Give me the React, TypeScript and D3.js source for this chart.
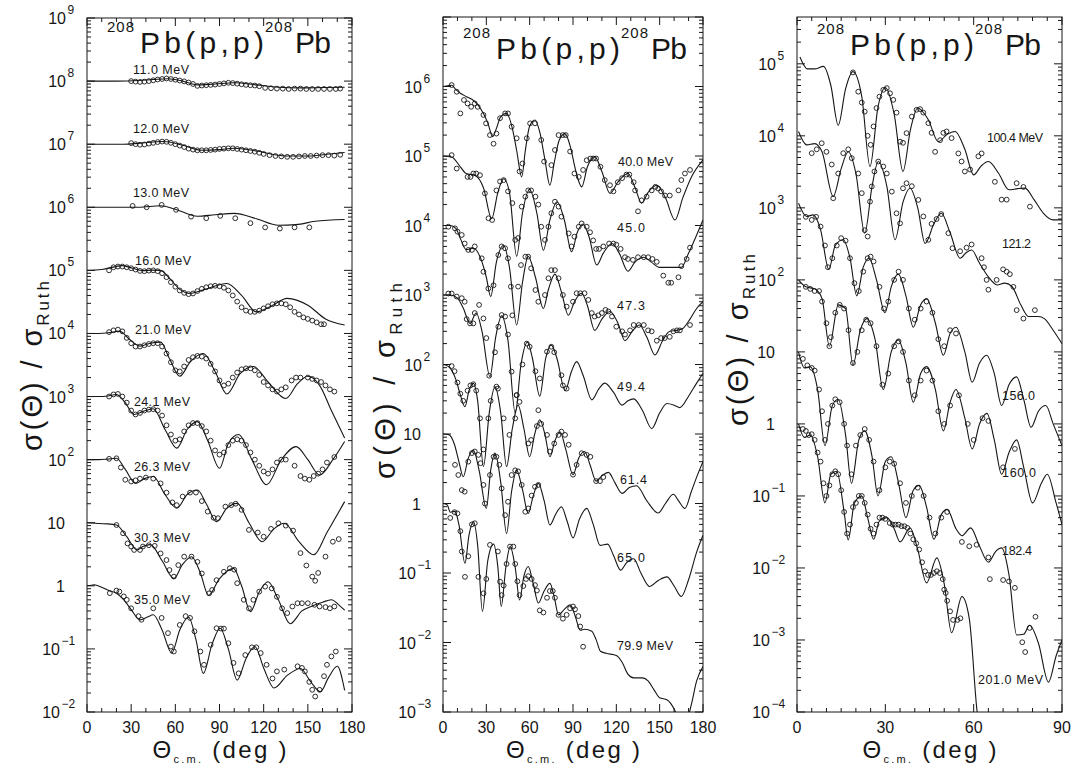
import React from "react";
import * as d3 from "d3";

type Pt = [number, number];

// ================= Panel A : 11 – 35 MeV =================
const A_LABELS = ["11.0 MeV", "12.0 MeV", "13.0 MeV", "16.0 MeV", "21.0 MeV", "24.1 MeV", "26.3 MeV", "30.3 MeV", "35.0 MeV"];
const A_FACTORS = [1e8, 1e7, 1e6, 1e5, 1e4, 1e3, 1e2, 10, 1];

const th_11_0: Pt[] = [[0,1.0],[20,1.0],[35,1.02],[45,1.06],[55,1.09],[65,1.0],[75,0.87],[87,0.9],[100,0.94],[115,0.87],[130,0.8],[145,0.78],[160,0.79],[175,0.8]];
const ex_11_0: Pt[] = [[30,1.0],[33,0.98],[36,0.97],[39,0.98],[42,1.0],[45,1.03],[48,1.06],[51,1.08],[54,1.1],[57,1.08],[60,1.05],[63,1.02],[66,0.99],[69,0.95],[72,0.9],[75,0.84],[78,0.85],[81,0.86],[84,0.87],[87,0.88],[90,0.9],[93,0.92],[96,0.94],[99,0.93],[102,0.91],[105,0.89],[108,0.87],[111,0.86],[114,0.85],[117,0.83],[121,0.78],[125,0.77],[129,0.76],[133,0.76],[137,0.75],[141,0.76],[145,0.76],[149,0.75],[153,0.75],[157,0.75],[161,0.75],[165,0.75],[169,0.75],[172,0.76]];

const th_12_0: Pt[] = [[0,1.0],[25,1.0],[35,1.03],[52,1.1],[65,0.96],[78,0.8],[90,0.82],[100,0.86],[115,0.78],[135,0.65],[150,0.65],[165,0.7],[175,0.74]];
const ex_12_0: Pt[] = [[30,1.04],[33,1.0],[36,0.98],[39,0.99],[42,1.02],[45,1.05],[48,1.08],[51,1.1],[54,1.09],[57,1.05],[60,1.0],[63,0.95],[66,0.9],[69,0.85],[72,0.82],[75,0.8],[78,0.8],[81,0.8],[84,0.81],[87,0.82],[90,0.84],[93,0.85],[96,0.86],[99,0.86],[102,0.84],[105,0.82],[108,0.8],[111,0.78],[114,0.76],[117,0.73],[120,0.7],[124,0.67],[128,0.65],[132,0.64],[136,0.63],[140,0.63],[144,0.64],[148,0.65],[152,0.65],[156,0.66],[160,0.67],[164,0.67],[168,0.66],[172,0.68]];

const th_13_0: Pt[] = [[0,1.0],[20,1.0],[35,1.0],[50,1.06],[60,0.93],[75,0.72],[87,0.76],[100,0.8],[115,0.66],[130,0.52],[142,0.53],[155,0.6],[175,0.64]];
const ex_13_0: Pt[] = [[31,1.05],[40.5,1.0],[50.7,1.09],[60.5,0.91],[70.7,0.71],[81,0.67],[90.5,0.73],[100.7,0.67],[111,0.56],[121,0.48],[131,0.46],[141,0.48],[151,0.48]];

const th_16_0: Pt[] = [[0,1.0],[10,1.03],[24,1.19],[31,1.08],[38,0.99],[44,1.01],[50,1.0],[56,0.75],[63,0.5],[70,0.43],[80,0.5],[95,0.62],[105,0.4],[115,0.22],[125,0.27],[136,0.36],[150,0.28],[162,0.17],[175,0.136]];
const ex_16_0: Pt[] = [[15,1.0],[18,1.12],[21,1.15],[24,1.15],[27,1.12],[30,1.08],[33,1.03],[36,0.98],[39,0.97],[42,0.99],[45,1.0],[48,0.97],[51,0.9],[54,0.78],[57,0.65],[60,0.55],[63,0.48],[66,0.44],[69,0.42],[72,0.43],[75,0.47],[78,0.51],[81,0.54],[84,0.56],[87,0.57],[90,0.56],[93,0.53],[96,0.48],[99,0.4],[102,0.32],[105,0.26],[108,0.23],[111,0.22],[114,0.22],[117,0.23],[120,0.25],[123,0.27],[126,0.29],[129,0.3],[132,0.3],[135,0.29],[138,0.26],[141,0.22],[144,0.2],[147,0.18],[150,0.17],[153,0.16],[156,0.15],[159,0.14],[161,0.14]];

const th_21_0: Pt[] = [[0,1.0],[8,1.0],[15,1.03],[22,1.09],[29,0.8],[36,0.63],[43,0.7],[50,0.73],[56,0.4],[63,0.21],[70,0.35],[79,0.48],[87,0.25],[95,0.11],[104,0.23],[113,0.3],[123,0.17],[135,0.093],[143,0.16],[150,0.21],[158,0.15],[166,0.06],[175,0.022]];
const ex_21_0: Pt[] = [[15,1.05],[18,1.12],[21,1.15],[24,1.08],[27,0.85],[30,0.7],[33,0.62],[36,0.62],[39,0.65],[42,0.68],[45,0.7],[48,0.7],[51,0.62],[54,0.48],[57,0.35],[60,0.26],[63,0.25],[66,0.3],[69,0.38],[72,0.42],[75,0.44],[78,0.43],[81,0.4],[84,0.33],[87,0.25],[90,0.18],[93,0.15],[96,0.16],[99,0.2],[102,0.24],[105,0.27],[108,0.28],[111,0.28],[114,0.26],[117,0.22],[120,0.17],[123,0.15],[126,0.13],[129,0.12],[132,0.13],[135,0.14],[139,0.18],[142,0.2],[145,0.2],[150,0.2],[153,0.19],[156,0.18],[159,0.17],[162,0.15],[165,0.13],[168,0.12]];

const th_24_1: Pt[] = [[0,1.0],[8,1.0],[14,1.02],[20,1.08],[26,0.8],[32,0.52],[38,0.58],[45,0.64],[53,0.3],[61,0.152],[68,0.3],[75,0.4],[82,0.2],[90,0.073],[96,0.18],[103,0.25],[112,0.1],[122,0.04],[132,0.1],[142,0.161],[150,0.1],[158,0.057],[167,0.1],[175,0.194]];
const ex_24_1: Pt[] = [[15,1.0],[18,1.08],[21,1.1],[24,1.0],[27,0.8],[30,0.6],[33,0.52],[36,0.55],[39,0.6],[42,0.62],[45,0.63],[48,0.6],[51,0.5],[54,0.35],[57,0.25],[60,0.2],[63,0.21],[66,0.28],[69,0.35],[72,0.38],[75,0.38],[78,0.34],[81,0.28],[84,0.2],[87,0.14],[90,0.12],[93,0.13],[96,0.17],[99,0.2],[102,0.21],[105,0.2],[108,0.17],[111,0.13],[114,0.1],[117,0.08],[120,0.065],[123,0.06],[126,0.07],[129,0.09],[132,0.1],[135,0.1],[141,0.08],[145,0.055],[148,0.05],[151,0.048],[154,0.055],[157,0.06],[160,0.07],[163,0.09],[168,0.11]];

const th_26_3: Pt[] = [[0,1.0],[8,1.0],[14,1.02],[20,1.05],[26,0.7],[33,0.42],[39,0.5],[45,0.54],[53,0.28],[61,0.17],[68,0.28],[75,0.33],[81,0.2],[88,0.104],[95,0.17],[102,0.203],[110,0.1],[119,0.05],[127,0.08],[134,0.098],[144,0.05],[154,0.031],[163,0.07],[175,0.216]];
const ex_26_3: Pt[] = [[15,1.03],[20,1.05],[23,0.75],[26,0.48],[30,0.45],[33,0.47],[36,0.5],[40,0.52],[45,0.5],[50,0.42],[54,0.3],[58,0.21],[61,0.19],[65,0.26],[70,0.3],[74,0.3],[78,0.22],[82,0.15],[86,0.12],[89,0.118],[94,0.18],[98,0.19],[101,0.2],[105,0.16],[110,0.077],[116,0.07],[120,0.06],[125,0.08],[130,0.098],[135,0.09],[140,0.075],[145,0.033],[149,0.021],[153,0.014],[155,0.012],[157,0.016],[162,0.029],[167,0.05],[171,0.055]];

const th_30_3: Pt[] = [[0,1.0],[4,0.99],[8,0.97],[14,0.96],[20,0.92],[27,0.6],[34,0.37],[38,0.42],[43,0.45],[51,0.25],[59,0.131],[65,0.22],[71,0.289],[77,0.16],[82.5,0.071],[90,0.13],[99.5,0.189],[105,0.1],[111,0.039],[117,0.08],[123,0.116],[130,0.06],[138,0.025],[146,0.04],[153,0.048],[160,0.055],[166,0.06],[171,0.05],[175,0.041]];
const ex_30_3: Pt[] = [[20,0.92],[24.5,0.68],[27.5,0.47],[30,0.42],[32,0.37],[36,0.37],[38,0.42],[42,0.44],[46,0.43],[50,0.326],[54,0.256],[56,0.178],[59,0.14],[62,0.213],[66,0.29],[71,0.29],[75,0.24],[78,0.157],[83,0.076],[85,0.086],[88,0.123],[93,0.167],[97,0.19],[100,0.18],[102,0.11],[106.5,0.06],[110,0.044],[113,0.06],[117,0.081],[121,0.097],[125.5,0.091],[129,0.067],[132.5,0.044],[136,0.037],[139.5,0.047],[143,0.053],[146,0.053],[150,0.053],[154.5,0.05],[158,0.047],[162,0.046],[165,0.044],[168,0.047]];

const th_35_0: Pt[] = [[0,1.0],[3,1.02],[5,1.04],[10,0.95],[15,0.84],[20,0.76],[25,0.6],[30,0.42],[36,0.289],[41,0.32],[45,0.347],[51,0.2],[57.5,0.0858],[63,0.2],[69,0.318],[74,0.14],[79,0.041],[85,0.12],[90.5,0.213],[96,0.1],[102,0.032],[108,0.07],[114,0.109],[120,0.05],[127,0.024],[136,0.038],[145,0.049],[152,0.03],[158.6,0.021],[164,0.035],[170,0.053],[175,0.022]];
const ex_35_0: Pt[] = [[15.5,0.765],[20,0.84],[22,0.81],[25,0.68],[27,0.6],[30,0.44],[35,0.33],[37,0.29],[45,0.44],[50.7,0.31],[55,0.178],[57,0.109],[59,0.091],[63,0.24],[67,0.33],[70,0.31],[73,0.19],[77,0.091],[79.5,0.056],[84,0.116],[88,0.213],[91,0.21],[93,0.21],[96,0.123],[99.5,0.06],[103,0.041],[107.5,0.08],[112,0.106],[115,0.106],[118,0.086],[122,0.056],[126,0.034],[129,0.044],[134,0.047],[143,0.053],[146,0.05],[148,0.044],[151,0.03],[153,0.0225],[155,0.0176],[158,0.0225],[161,0.037],[163,0.056],[166,0.076],[169,0.091]];

// ================= Panel B : 40 – 79.9 MeV =================
const B_LABELS = ["40.0 MeV", "45.0", "47.3", "49.4", "61.4", "65.0", "79.9 MeV"];
const B_FACTORS = [1e6, 1e5, 1e4, 1e3, 1e2, 10, 1];

const th_40_0: Pt[] = [[0,1.0],[3,1.02],[6,1.04],[9,0.9],[12,0.8],[16,0.72],[20,0.654],[24,0.55],[28,0.41],[31,0.3],[34.4,0.19],[37,0.25],[40,0.37],[44,0.41],[48,0.25],[51,0.12],[54.5,0.05],[57,0.12],[60,0.27],[63.7,0.33],[67,0.22],[70.5,0.09],[74,0.038],[77,0.08],[80.5,0.17],[84.5,0.21],[88,0.14],[92,0.06],[96,0.036],[100,0.07],[105,0.098],[110,0.06],[115.6,0.029],[121,0.042],[128,0.056],[133,0.035],[137.5,0.021],[142,0.03],[148,0.038],[154,0.025],[160.6,0.012],[166,0.025],[172,0.05],[180,0.088]];
const ex_40_0: Pt[] = [[6,1.05],[9.5,0.84],[12,0.41],[14.5,0.64],[17,0.57],[19.5,0.51],[22,0.57],[24,0.51],[28,0.39],[29.8,0.295],[32.5,0.2],[35,0.15],[37,0.21],[39.5,0.35],[43,0.41],[45,0.41],[47.5,0.264],[51,0.18],[53,0.06],[55,0.078],[58,0.18],[60.3,0.295],[63.7,0.295],[68,0.17],[70,0.083],[75,0.074],[77.5,0.122],[80,0.2],[83,0.2],[85,0.2],[88,0.116],[91,0.056],[94,0.05],[97,0.063],[99.5,0.087],[102,0.092],[104,0.092],[106,0.092],[109,0.07],[112,0.045],[115.6,0.038],[118,0.031],[121,0.042],[124,0.048],[127,0.054],[129,0.054],[132,0.042],[133,0.032],[135,0.016],[137.5,0.023],[141,0.026],[144.5,0.032],[147,0.036],[149,0.034],[151,0.031],[153.7,0.027],[157,0.027],[163,0.032],[165,0.045],[167.5,0.056],[171,0.063]];

const th_45_0: Pt[] = [[0,1.0],[6,0.97],[12,0.7],[16,0.56],[22,0.53],[28,0.35],[33.7,0.125],[38,0.3],[42,0.47],[46,0.3],[51,0.036],[55,0.15],[60,0.33],[65,0.15],[69.5,0.044],[74,0.12],[79,0.22],[84,0.12],[89,0.042],[93,0.08],[97,0.105],[101,0.07],[106.4,0.027],[111,0.04],[117,0.055],[122,0.04],[128,0.022],[133,0.03],[139,0.035],[144,0.03],[150,0.025],[158,0.025],[165,0.025],[170,0.04],[175.6,0.073],[180,0.12]];
const ex_45_0: Pt[] = [[6,1.03],[9.5,0.66],[17,0.5],[19,0.5],[21,0.56],[23,0.56],[25.6,0.53],[29,0.29],[31.5,0.127],[34,0.12],[37,0.32],[39.5,0.43],[42,0.45],[45,0.31],[48,0.21],[50,0.062],[52,0.066],[54.5,0.187],[57,0.26],[59,0.32],[61,0.32],[64,0.26],[66,0.2],[68,0.096],[70.6,0.062],[73,0.096],[75,0.15],[77.5,0.22],[80,0.187],[82,0.134],[87,0.077],[89,0.05],[91,0.069],[94,0.096],[96,0.107],[99.5,0.096],[101.8,0.08],[104,0.061],[106,0.046],[108,0.046],[111,0.05],[115,0.055],[118,0.055],[120,0.053],[123,0.046],[126,0.035],[128,0.033],[131.5,0.032],[135,0.035],[139,0.035],[142,0.035],[145,0.033],[148,0.03],[152.5,0.019],[156,0.015],[158,0.015],[163,0.018],[165,0.026],[168.7,0.033],[171,0.048]];

const th_47_3: Pt[] = [[0,1.0],[5,1.0],[9,0.9],[12,0.65],[16,0.45],[21,0.47],[26,0.34],[30,0.18],[33,0.095],[37,0.3],[42,0.52],[46,0.25],[51,0.037],[55,0.15],[59,0.36],[64,0.18],[69.5,0.064],[73,0.12],[77.5,0.2],[82,0.11],[86.8,0.051],[91,0.08],[96,0.106],[100,0.07],[105,0.031],[110,0.045],[115.6,0.058],[121,0.04],[126,0.022],[131,0.03],[136,0.037],[141,0.025],[146.8,0.0137],[152,0.022],[157,0.03],[162,0.031],[166,0.033],[171,0.045],[175.6,0.064],[180,0.08]];
const ex_47_3: Pt[] = [[3.7,0.96],[8.3,0.91],[10,0.815],[13,0.73],[15,0.55],[17.5,0.445],[20,0.445],[22,0.5],[26.8,0.337],[28,0.216],[31.4,0.124],[35,0.138],[38.3,0.376],[40.6,0.5],[43,0.47],[45,0.337],[47,0.132],[48,0.051],[52,0.132],[54,0.27],[57,0.356],[59,0.356],[61,0.242],[64,0.118],[66,0.08],[70.6,0.1],[73,0.174],[75,0.228],[77.5,0.228],[80,0.174],[83,0.1],[85.6,0.068],[90,0.08],[92.5,0.106],[95,0.106],[98,0.106],[100.6,0.085],[103,0.055],[105,0.049],[107.5,0.051],[110,0.055],[112.5,0.061],[114.5,0.058],[117,0.049],[120,0.035],[124,0.03],[126,0.027],[129.5,0.031],[132,0.037],[135.5,0.037],[139,0.037],[142,0.031],[144.5,0.03],[148,0.022],[151,0.024],[153.5,0.024],[157,0.025],[159.5,0.03],[162,0.031],[164,0.031],[171,0.037]];

const th_49_4: Pt[] = [[0,1.0],[5,1.0],[10,0.9],[14,0.65],[18.7,0.39],[23,0.55],[27,0.3],[32.5,0.067],[36.5,0.25],[40.6,0.5],[45,0.22],[50,0.02],[54,0.1],[58.5,0.21],[62,0.12],[67,0.035],[71,0.12],[75,0.19],[79,0.12],[84.5,0.042],[89,0.08],[92.5,0.11],[97,0.07],[103,0.031],[108,0.045],[112,0.054],[118,0.04],[124,0.026],[128,0.03],[132,0.032],[138,0.022],[144.5,0.012],[150,0.02],[155,0.0275],[160,0.026],[164,0.024],[170,0.035],[175.6,0.054],[180,0.075]];
const ex_49_4: Pt[] = [[3.7,1.05],[6,1.05],[9.5,0.95],[13,0.9],[15,0.8],[16.4,0.45],[18.7,0.39],[21,0.39],[22,0.55],[25,0.72],[28,0.46],[30,0.24],[32,0.069],[36,0.15],[38.3,0.35],[40.6,0.515],[43,0.49],[45,0.27],[47.5,0.079],[51,0.036],[55,0.1],[58,0.2],[60,0.18],[64,0.08],[67,0.063],[72,0.153],[75,0.18],[77,0.15],[82,0.07],[83,0.05],[85.6,0.045]];

const th_61_4: Pt[] = [[0,1.0],[4,0.93],[9,0.6],[12,0.365],[15.2,0.247],[18,0.42],[21,0.535],[24,0.3],[28,0.034],[32,0.2],[36,0.48],[40,0.2],[44,0.034],[48,0.12],[52,0.26],[56,0.12],[60,0.047],[63.5,0.1],[67,0.16],[70.5,0.1],[74,0.047],[77.5,0.08],[81,0.108],[85,0.06],[90,0.026],[94,0.045],[98,0.056],[102,0.035],[106,0.021],[110,0.025],[114.5,0.028],[119,0.02],[124,0.014],[129,0.017],[134,0.018],[141,0.011],[149,0.0073],[154,0.01],[159.5,0.0136],[163,0.011],[167.5,0.0085],[172,0.015],[175.6,0.024],[180,0.04]];
const ex_61_4: Pt[] = [[6,0.95],[8,0.8],[10,0.55],[12,0.38],[14,0.3],[17,0.42],[19,0.5],[21,0.52],[23,0.42],[25.6,0.168],[28,0.06],[31.4,0.168],[33,0.3],[37,0.48],[38,0.45],[42,0.168],[46,0.097],[50,0.168],[51,0.364],[53,0.29],[59,0.073],[61,0.082],[65,0.13],[66,0.22],[68,0.14],[72,0.097],[74,0.056],[77,0.073],[80,0.097],[82,0.108],[84.5,0.097],[87,0.07],[90,0.026],[92.5,0.036],[96,0.053],[99.5,0.05],[102,0.047],[106,0.021],[108.7,0.021],[111,0.024]];

const th_65_0: Pt[] = [[0,1.0],[4,0.98],[8,0.7],[11,0.4],[14,0.243],[17.5,0.45],[21,0.59],[25,0.3],[30,0.085],[33,0.3],[36,0.53],[40,0.2],[44,0.037],[47.5,0.15],[51,0.3],[55,0.16],[59,0.072],[62.5,0.13],[66,0.195],[70,0.11],[74,0.049],[78,0.07],[82,0.09],[86,0.055],[90,0.032],[94.5,0.06],[99.5,0.085],[104,0.05],[108.7,0.025],[114,0.026],[118,0.018],[123,0.011],[127,0.014],[132,0.016],[137,0.01],[143,0.0064],[149,0.0078],[155,0.0088],[160,0.0065],[165,0.0046],[170,0.008],[175.6,0.02],[180,0.035]];
const ex_65_0: Pt[] = [[8.3,0.36],[10.6,0.257],[13,0.156],[15,0.148],[17.5,0.4],[20,0.53],[22,0.56],[24.5,0.5],[26,0.38],[28,0.185],[29,0.1],[32.5,0.257],[35,0.47],[37,0.47],[39,0.36],[40.6,0.165],[43,0.068],[45,0.106],[47.5,0.257],[50,0.3],[52,0.29],[54.5,0.185],[57,0.076],[59,0.085],[61.4,0.13],[63.7,0.174],[66,0.185]];

const th_79_9: Pt[] = [[0,1.0],[3,0.95],[5,0.75],[8.3,0.77],[11,0.5],[15.2,0.138],[18,0.35],[21,0.55],[24,0.25],[27.3,0.028],[31,0.15],[35,0.26],[38,0.12],[40.3,0.033],[43.5,0.12],[46.5,0.24],[50,0.12],[53,0.041],[56,0.09],[59,0.124],[62.5,0.07],[66,0.037],[70,0.055],[74,0.071],[77,0.045],[80,0.025],[84,0.03],[88,0.035],[91.5,0.024],[95,0.015],[98,0.0155],[103,0.0145],[106,0.011],[109,0.0075],[113,0.007],[120,0.0065],[124,0.0052],[128,0.0035],[132,0.0031],[138,0.0031],[142,0.0028],[146,0.0021],[150,0.0016],[155,0.0015],[158,0.0013],[161,0.001],[164,0.0007],[168,0.0007],[172,0.0013],[175.6,0.0028],[180,0.0045]];
const ex_79_9: Pt[] = [[5,0.62],[8,0.75],[10,0.72],[12,0.4],[13,0.204],[15.2,0.088],[17.5,0.174],[20,0.5],[22,0.52],[24.5,0.088],[28,0.051],[30,0.082],[32.5,0.254],[38,0.204],[39.5,0.075],[40.6,0.048],[42,0.066],[44,0.135],[46.4,0.24],[48.7,0.24],[50,0.135],[51.5,0.076],[53,0.048],[55.6,0.065],[57.5,0.082],[59,0.09],[61.4,0.082],[63.7,0.067],[65,0.056],[67,0.029],[69.5,0.027],[72,0.044],[74,0.055],[76,0.055],[77.5,0.044],[80,0.025],[83,0.022],[85.6,0.025],[88,0.031],[90,0.033],[91.4,0.03],[93.7,0.024],[95,0.017],[97,0.0087]];

// ================= Panel C : 100.4 – 201.0 MeV =================
const C_LABELS = ["100.4 MeV", "121.2", "156.0", "160.0", "182.4", "201.0 MeV"];
const C_FACTORS = [1e5, 1e4, 1e3, 1e2, 10, 1];

const th_100_4: Pt[] = [[1,1.24],[3.5,0.85],[6,0.85],[9,0.92],[11.5,0.5],[14,0.14],[16.5,0.45],[19,0.78],[22,0.35],[24.8,0.0375],[27.5,0.25],[30,0.47],[33,0.2],[36,0.032],[38.5,0.12],[41,0.243],[44.5,0.17],[48,0.083],[51,0.105],[53.7,0.115],[57,0.065],[60,0.0287],[62.5,0.038],[65,0.044],[68.5,0.03],[72,0.0178],[75,0.0185],[77.4,0.0188],[80.5,0.013],[83.7,0.0084],[87,0.0068],[90,0.0068]];
const ex_100_4: Pt[] = [[19,0.76],[20.8,0.41],[22,0.29],[23,0.217],[24,0.1],[25,0.075],[26,0.135],[27,0.243],[28,0.35],[29.3,0.435],[30.5,0.46],[31.6,0.39],[32.7,0.316],[33.8,0.21],[35,0.083],[36,0.08],[37.2,0.109],[39,0.185],[40.6,0.23],[41.8,0.235],[42.9,0.21],[44.6,0.15],[45.7,0.11],[46.9,0.06],[48.6,0.087],[49.7,0.11],[50.8,0.115],[52.5,0.093],[54.8,0.057],[55.9,0.044],[57,0.032],[58.8,0.034],[61.6,0.052],[62.7,0.057],[67.2,0.023],[69.5,0.013],[71.2,0.013],[74.6,0.022],[76.9,0.0195],[79.1,0.0104]];

const th_121_2: Pt[] = [[0.5,1.15],[3.3,0.75],[6,0.78],[8.5,0.6],[12.3,0.144],[15,0.35],[17.4,0.6],[20,0.3],[23,0.0445],[25.5,0.2],[27.6,0.44],[30.5,0.2],[33.3,0.036],[36,0.12],[38.4,0.187],[41,0.1],[43.5,0.032],[46.5,0.06],[49,0.084],[52,0.045],[55.4,0.02],[57.5,0.024],[59.3,0.026],[62,0.017],[65,0.011],[68,0.0085],[70.5,0.009],[73,0.0081],[76,0.0045],[78.6,0.0031],[82,0.0031],[84,0.0029],[87,0.002],[90,0.0013]];
const ex_121_2: Pt[] = [[5,0.574],[6.7,0.65],[8.4,0.79],[10,0.6],[11.8,0.4],[12.3,0.136],[14,0.3],[15.7,0.574],[17.4,0.65],[18.6,0.49],[20.8,0.3],[22,0.16],[23,0.049],[24,0.04],[24.8,0.122],[25.4,0.198],[26.3,0.32],[27.6,0.44],[29.3,0.375],[30.5,0.3],[32.2,0.168],[33.8,0.084],[35,0.061],[36,0.187],[37.2,0.22],[39,0.2],[41.2,0.129],[42.9,0.076],[44.6,0.036],[45.7,0.06],[47.4,0.07],[49,0.082],[51.4,0.0445],[52.8,0.0275],[55.4,0.025],[57.6,0.028],[59.3,0.031],[62.7,0.02],[63.5,0.015],[64.4,0.01],[65,0.0073],[67.8,0.01],[70,0.014],[71.2,0.013],[72.3,0.012],[73.5,0.008],[74.6,0.0038],[76.9,0.0029],[80.8,0.0038]];

const th_156_0: Pt[] = [[0.5,1.16],[3.3,0.76],[5.5,0.8],[8,0.5],[10.8,0.14],[13,0.3],[15.7,0.36],[18,0.2],[20.3,0.06],[22.5,0.15],[24.5,0.2],[27,0.1],[29.9,0.035],[32,0.08],[34.4,0.12],[37,0.06],[39.5,0.022],[42,0.045],[44,0.055],[47,0.025],[49.7,0.009],[52,0.018],[54,0.022],[57,0.01],[59.5,0.0038],[62,0.007],[64.4,0.009],[67,0.005],[69.5,0.0018],[72,0.0035],[74.6,0.0045],[77,0.0022],[79.5,0.0009],[82,0.0015],[84.5,0.0018],[87,0.001],[90,0.0005]];
const ex_156_0: Pt[] = [[3,0.75],[5,0.68],[6.5,0.75],[8,0.55],[9.5,0.3],[10.5,0.15],[12,0.2],[13.5,0.3],[15,0.38],[16.5,0.35],[18,0.2],[19.5,0.09],[21,0.07],[22.5,0.13],[24,0.2],[25,0.21],[26,0.18],[28,0.08],[29.5,0.04],[31,0.05],[33,0.1],[34.5,0.13],[36,0.1],[38,0.04],[40,0.028],[42,0.04],[44,0.05],[46,0.035],[48,0.015],[50,0.012],[52,0.02],[54,0.018]];

const th_160_0: Pt[] = [[0.5,1.0],[3,0.8],[6,0.75],[8.5,0.55],[11,0.12],[14,0.45],[16.5,0.4],[19,0.066],[21.5,0.2],[23.7,0.29],[26.5,0.15],[29.3,0.03],[32,0.1],[34.4,0.147],[37,0.07],[39.5,0.02],[42,0.05],[44,0.0625],[47,0.03],[49.7,0.008],[52,0.02],[54,0.03],[57,0.012],[59.5,0.0045],[62,0.01],[64.5,0.014],[67,0.006],[69.5,0.002],[72,0.004],[74.6,0.006],[77,0.0025],[80,0.0008],[83,0.0015],[85,0.002],[88,0.0008],[90,0.0004]];
const ex_160_0: Pt[] = [[3,0.8],[4.5,0.75],[6,0.7],[7.5,0.7],[8.5,0.5],[10,0.25],[11,0.12],[11.5,0.16],[13,0.35],[14.5,0.45],[16,0.4],[17.5,0.2],[19,0.07],[20.5,0.1],[22,0.2],[23.5,0.28],[25,0.25],[27,0.12],[29,0.035],[31,0.05],[33,0.12],[34.5,0.14],[36,0.1],[38,0.04],[40,0.025],[42,0.04],[44,0.055],[46,0.04],[48,0.015],[50,0.01],[52,0.018],[55,0.025],[58,0.01],[60,0.006],[63,0.012],[65,0.011],[70,0.0025],[74,0.0045]];

const th_182_4: Pt[] = [[0.5,1.0],[2.5,0.6],[4.5,0.62],[7,0.3],[9.5,0.05],[12,0.18],[14,0.22],[16.5,0.07],[18.5,0.015],[21,0.06],[23,0.08],[25.5,0.035],[27.5,0.01],[30,0.03],[32,0.035],[34.5,0.015],[37,0.005],[39.5,0.012],[41.5,0.014],[44,0.007],[46.5,0.0025],[49,0.0055],[51,0.0065],[54,0.0035],[56,0.0028],[59,0.0036],[62,0.002],[65,0.0012],[67.5,0.0017],[69.5,0.0019],[72,0.0008],[74.6,0.000117],[77,0.00012],[79,0.00016],[82,0.00009],[85.4,0.000026],[88,0.00006],[90,0.0001]];
const ex_182_4: Pt[] = [[2,0.8],[3.5,0.65],[5,0.6],[6,0.55],[7.5,0.3],[8.5,0.15],[9.5,0.06],[10.5,0.1],[12,0.18],[13,0.22],[14.5,0.2],[16,0.1],[17,0.05],[18.5,0.02],[20,0.05],[21.5,0.07],[23,0.085],[24.5,0.06],[26,0.03],[28,0.012],[30,0.025],[31.5,0.03],[33,0.028],[35,0.015],[37,0.008],[39,0.01],[41,0.013],[43,0.01],[45,0.005],[47,0.003],[49,0.005],[51,0.006],[56,0.0023],[58.5,0.002],[61,0.0021],[65,0.0014],[65.5,0.0007],[70,0.00068],[72,0.00065],[74,0.00053],[76.5,0.000093],[77.5,0.000068],[79,0.000147],[81,0.00021]];

const th_201_0: Pt[] = [[0.5,1.0],[2.5,0.65],[4.5,0.7],[7,0.35],[9.5,0.08],[11.5,0.2],[13.5,0.22],[16,0.06],[17.4,0.0245],[19.5,0.08],[22,0.1],[24,0.05],[26,0.025],[28,0.045],[30.5,0.05],[33,0.035],[35,0.023],[38.4,0.036],[41,0.018],[44,0.0062],[47.5,0.0138],[50,0.006],[52.5,0.00126],[56,0.004],[58.5,0.002],[61,0.000118],[62,0.00005]];
const ex_201_0: Pt[] = [[2,0.85],[3,0.8],[4,0.7],[5,0.72],[6,0.6],[7,0.4],[8,0.3],[9,0.15],[10,0.1],[11,0.14],[12,0.2],[13,0.22],[14,0.2],[15,0.12],[16,0.06],[17,0.03],[18,0.04],[19,0.07],[20,0.08],[21,0.1],[22,0.1],[23,0.08],[24,0.055],[25,0.035],[26,0.03],[27,0.04],[28,0.05],[29,0.05],[30,0.048],[31.5,0.042],[32.5,0.04],[33.5,0.04],[34.5,0.04],[35.5,0.038],[36.5,0.038],[37.5,0.036],[38.5,0.03],[39.5,0.025],[40.5,0.022],[41.5,0.018],[42.5,0.012],[43.5,0.009],[44.5,0.008],[45.5,0.008],[46.5,0.0085],[47.5,0.009],[48.5,0.0085],[49.5,0.007],[50,0.005],[50.5,0.0045],[51,0.0035],[52,0.0025],[53,0.0019],[54.5,0.0019],[55.5,0.002]];

// ------------- assemble series tables -------------
const A_THEORY = [th_11_0, th_12_0, th_13_0, th_16_0, th_21_0, th_24_1, th_26_3, th_30_3, th_35_0];
const A_EXP = [ex_11_0, ex_12_0, ex_13_0, ex_16_0, ex_21_0, ex_24_1, ex_26_3, ex_30_3, ex_35_0];
const B_THEORY = [th_40_0, th_45_0, th_47_3, th_49_4, th_61_4, th_65_0, th_79_9];
const B_EXP = [ex_40_0, ex_45_0, ex_47_3, ex_49_4, ex_61_4, ex_65_0, ex_79_9];
const C_THEORY = [th_100_4, th_121_2, th_156_0, th_160_0, th_182_4, th_201_0];
const C_EXP = [ex_100_4, ex_121_2, ex_156_0, ex_160_0, ex_182_4, ex_201_0];

const FONT = "'Liberation Sans', Arial, Helvetica, sans-serif";
const INK = "#161616";

type Layout = {
  id: string;
  left: number; right: number; top: number; bottom: number;
  xMax: number; xMinorStep: number;
  yMin: number; yMax: number;
  expLo: number; expHi: number;
  titleBase: number;
  ylab: { x: number; cy: number; len: number };
  labelPos: { x: number; y: number; w: number }[];
  labels: string[]; factors: number[]; theory: Pt[][]; exp: Pt[][];
};

const LAYOUTS: Layout[] = [
  {
    id: "A", left: 87, right: 352, top: 18, bottom: 712, xMax: 180, xMinorStep: 10,
    yMin: 1e-2, yMax: 1e9, expLo: -2, expHi: 9, titleBase: 53,
    ylab: { x: 42, cy: 366, len: 170 },
    labelPos: [
      { x: 133, y: 74, w: 56 }, { x: 133, y: 133, w: 56 }, { x: 133, y: 197, w: 56 },
      { x: 135, y: 265, w: 56 }, { x: 135, y: 334, w: 56 }, { x: 134, y: 406, w: 56 },
      { x: 134, y: 471, w: 56 }, { x: 134, y: 542, w: 56 }, { x: 134, y: 604, w: 56 },
    ],
    labels: A_LABELS, factors: A_FACTORS, theory: A_THEORY, exp: A_EXP,
  },
  {
    id: "B", left: 443, right: 703, top: 17, bottom: 712, xMax: 180, xMinorStep: 10,
    yMin: 1e-3, yMax: 1e7, expLo: -3, expHi: 6, titleBase: 59,
    ylab: { x: 395, cy: 381, len: 196 },
    labelPos: [
      { x: 618, y: 166, w: 55 }, { x: 617, y: 232, w: 28 }, { x: 617, y: 310, w: 28 },
      { x: 617, y: 391, w: 28 }, { x: 620, y: 484, w: 27 }, { x: 617, y: 562, w: 28 },
      { x: 617, y: 650, w: 56 },
    ],
    labels: B_LABELS, factors: B_FACTORS, theory: B_THEORY, exp: B_EXP,
  },
  {
    id: "C", left: 797, right: 1062, top: 17, bottom: 712, xMax: 90, xMinorStep: 5,
    yMin: 1e-4, yMax: Math.pow(10, 5.65), expLo: -4, expHi: 5, titleBase: 55,
    ylab: { x: 748, cy: 340, len: 172 },
    labelPos: [
      { x: 987, y: 142, w: 56 }, { x: 1002, y: 248, w: 29 }, { x: 1002, y: 400, w: 33 },
      { x: 1002, y: 477, w: 34 }, { x: 1002, y: 555, w: 30 }, { x: 978, y: 684, w: 65 },
    ],
    labels: C_LABELS, factors: C_FACTORS, theory: C_THEORY, exp: C_EXP,
  },
];

function Panel({ L }: { L: Layout }) {
  const x = d3.scaleLinear().domain([0, L.xMax]).range([L.left, L.right]);
  const y = d3.scaleLog().domain([L.yMin, L.yMax]).range([L.bottom, L.top]);
  const line = d3
    .line<Pt>()
    .x((d) => x(d[0]))
    .y((d) => y(d[1]))
    .curve(d3.curveMonotoneX);

  const lo = Math.floor(Math.log10(L.yMin));
  const hi = Math.ceil(Math.log10(L.yMax));
  const major: number[] = [];
  const minor: number[] = [];
  for (let e = lo; e <= hi; e++) {
    const v = Math.pow(10, e);
    if (v >= L.yMin * 0.999 && v <= L.yMax * 1.001) major.push(e);
    for (let m = 2; m <= 9; m++) {
      const mv = m * v;
      if (mv > L.yMin && mv < L.yMax) minor.push(mv);
    }
  }
  const xMajor = d3.range(0, L.xMax + 0.01, 30);
  const xMinor = d3.range(0, L.xMax + 0.01, L.xMinorStep).filter((t) => t % 30 !== 0);
  const clipId = "clip" + L.id;
  const MAJ = 8, MIN = 4;
  const w = L.right - L.left;

  return (
    <g>
      <defs>
        <clipPath id={clipId}>
          <rect x={L.left} y={L.top} width={w} height={L.bottom - L.top} />
        </clipPath>
      </defs>
      <rect x={L.left} y={L.top} width={w} height={L.bottom - L.top} fill="none" stroke={INK} strokeWidth={1} />
      {major.map((e) => {
        const yy = y(Math.pow(10, e));
        return (
          <g key={"M" + e}>
            <line x1={L.left} x2={L.left + MAJ} y1={yy} y2={yy} stroke={INK} />
            <line x1={L.right} x2={L.right - MAJ} y1={yy} y2={yy} stroke={INK} />
          </g>
        );
      })}
      {minor.map((v, i) => {
        const yy = y(v);
        return (
          <g key={"m" + i}>
            <line x1={L.left} x2={L.left + MIN} y1={yy} y2={yy} stroke={INK} />
            <line x1={L.right} x2={L.right - MIN} y1={yy} y2={yy} stroke={INK} />
          </g>
        );
      })}
      {xMajor.map((t) => (
        <g key={"xM" + t}>
          <line x1={x(t)} x2={x(t)} y1={L.bottom} y2={L.bottom - MAJ} stroke={INK} />
          <line x1={x(t)} x2={x(t)} y1={L.top} y2={L.top + MAJ} stroke={INK} />
        </g>
      ))}
      {xMinor.map((t) => (
        <g key={"xm" + t}>
          <line x1={x(t)} x2={x(t)} y1={L.bottom} y2={L.bottom - MIN} stroke={INK} />
          <line x1={x(t)} x2={x(t)} y1={L.top} y2={L.top + MIN} stroke={INK} />
        </g>
      ))}
      {xMajor.map((t) => (
        <text key={"xl" + t} x={x(t)} y={L.bottom + 21} textAnchor="middle" fontSize={16} fontFamily={FONT} fill={INK}>
          {String(t)}
        </text>
      ))}
      {major
        .filter((e) => e >= L.expLo && e <= L.expHi)
        .map((e) => {
          const yy = y(Math.pow(10, e));
          if (e === 0 || e === 1) {
            return (
              <text key={"yl" + e} x={L.left - 22} y={yy + 6} textAnchor="end" fontSize={16} fontFamily={FONT} fill={INK}>
                {e === 0 ? "1" : "10"}
              </text>
            );
          }
          const neg = e < 0;
          const baseEnd = L.left - (neg ? 27 : 21);
          return (
            <g key={"yl" + e}>
              <text x={baseEnd} y={yy + 6} textAnchor="end" fontSize={16} fontFamily={FONT} fill={INK}>10</text>
              <text x={baseEnd + 1.5} y={yy - 4} textAnchor="start" fontSize={12} fontFamily={FONT} fill={INK}>
                {neg ? "\u2212" + String(-e) : String(e)}
              </text>
            </g>
          );
        })}
      <g fontFamily={FONT} fill={INK}>
        <text x={L.left + 20} y={L.titleBase - 21} fontSize={15} textLength={27} lengthAdjust="spacing">208</text>
        <text x={L.left + 53} y={L.titleBase} fontSize={30} textLength={124} lengthAdjust="spacing">Pb(p,p)</text>
        <text x={L.left + 178} y={L.titleBase - 21} fontSize={15} textLength={27} lengthAdjust="spacing">208</text>
        <text x={L.left + 208} y={L.titleBase} fontSize={30} textLength={36} lengthAdjust="spacing">Pb</text>
      </g>
      <text
        transform={`translate(${L.ylab.x},${L.ylab.cy}) rotate(-90)`}
        textAnchor="middle"
        fontSize={29}
        fontFamily={FONT}
        fill={INK}
        textLength={L.ylab.len}
        lengthAdjust="spacing"
      >
        {"\u03c3(\u0398) / \u03c3"}
        <tspan fontSize={17} dy={7}>Ruth</tspan>
      </text>
      <text x={(L.left + L.right) / 2} y={758} textAnchor="middle" fontFamily={FONT} fill={INK} fontSize={24} textLength={134} lengthAdjust="spacing">
        {"\u0398"}
        <tspan fontSize={11} dy={5}>c.m.</tspan>
        <tspan fontSize={24} dy={-5}>{" (deg )"}</tspan>
      </text>
      <g clipPath={`url(#${clipId})`}>
        {L.theory.map((s, i) => (
          <path key={"t" + i} d={line(s.map((p) => [p[0], p[1] * L.factors[i]] as Pt)) || ""} fill="none" stroke={INK} strokeWidth={1.1} />
        ))}
        {L.exp.map((s, i) =>
          s.map((p, j) => (
            <circle key={"c" + i + "_" + j} cx={x(p[0])} cy={y(p[1] * L.factors[i])} r={2.4} fill="none" stroke={INK} strokeWidth={0.9} />
          ))
        )}
      </g>
      {L.labels.map((lab, i) => (
        <text key={"el" + i} x={L.labelPos[i].x} y={L.labelPos[i].y} fontSize={12.5} fontFamily={FONT} fill={INK} textLength={L.labelPos[i].w} lengthAdjust="spacing">
          {lab}
        </text>
      ))}
    </g>
  );
}

export default function App() {
  return (
    <div style={{ position: "absolute", left: 0, top: 0, width: 1075, height: 771, background: "#fff" }}>
      <svg width={1075} height={771} viewBox="0 0 1075 771" style={{ display: "block" }}>
        <rect x={0} y={0} width={1075} height={771} fill="#fff" />
        {LAYOUTS.map((L) => (
          <Panel key={L.id} L={L} />
        ))}
      </svg>
    </div>
  );
}
